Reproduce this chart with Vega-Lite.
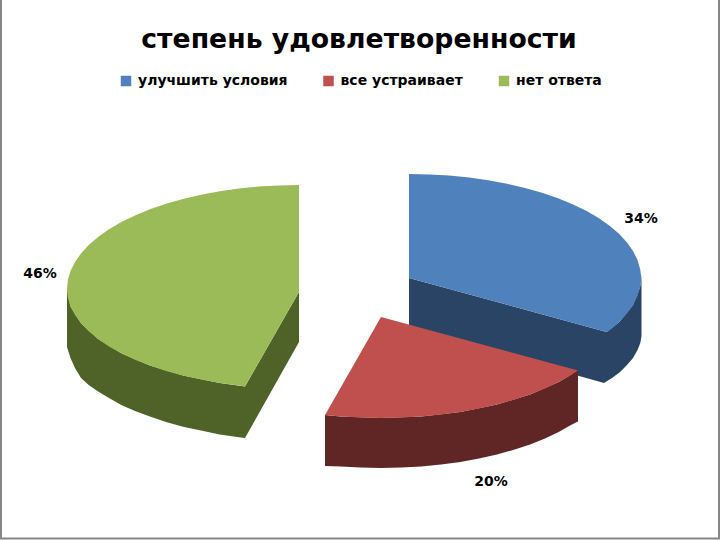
{
"$schema":"https://vega.github.io/schema/vega-lite/v6.json",
"width":720,"height":540,"padding":0,"autosize":{"type":"none"},
"background":"white",
"config":{"view":{"stroke":null}},
"title":{"text":"степень удовлетворенности","anchor":"middle","font":"DejaVu Sans","fontSize":26.7,"fontWeight":"bold","color":"#000000","baseline":"alphabetic","offset":0,"dy":79,"dx":-1},
"layer":[
{"data":{"values":[
{"x":1,"y":0,"i":0},{"x":1,"y":538.5,"i":1},{"x":719,"y":538.5,"i":2},{"x":719,"y":0,"i":3}
]},
"mark":{"type":"line","stroke":"#868686","strokeWidth":2},
"encoding":{"x":{"field":"x","type":"quantitative","scale":{"domain":[0,720],"nice":false,"zero":false},"axis":null},"y":{"field":"y","type":"quantitative","scale":{"domain":[540,0],"nice":false,"zero":false},"axis":null},"order":{"field":"i"}}},
{"data":{"values":[
{"p":"улучшить условия, бок","i":0,"x":409,"y":278},{"p":"улучшить условия, бок","i":1,"x":606.7,"y":332},{"p":"улучшить условия, бок","i":2,"x":619.3,"y":322},{"p":"улучшить условия, бок","i":3,"x":633,"y":304.9},{"p":"улучшить условия, бок","i":4,"x":640.1,"y":287},{"p":"улучшить условия, бок","i":5,"x":641.5,"y":278},{"p":"улучшить условия, бок","i":6,"x":641.5,"y":336},{"p":"улучшить условия, бок","i":7,"x":640.3,"y":343},{"p":"улучшить условия, бок","i":8,"x":637.5,"y":350},{"p":"улучшить условия, бок","i":9,"x":633,"y":358},{"p":"улучшить условия, бок","i":10,"x":627,"y":365},{"p":"улучшить условия, бок","i":11,"x":620,"y":372},{"p":"улучшить условия, бок","i":12,"x":612,"y":378},{"p":"улучшить условия, бок","i":13,"x":604,"y":383},{"p":"улучшить условия, бок","i":14,"x":409,"y":328},
{"p":"улучшить условия","i":0,"x":409,"y":174},{"p":"улучшить условия","i":1,"x":429.2,"y":174.4},{"p":"улучшить условия","i":2,"x":449.3,"y":175.6},{"p":"улучшить условия","i":3,"x":469,"y":177.5},{"p":"улучшить условия","i":4,"x":488.3,"y":180.3},{"p":"улучшить условия","i":5,"x":507,"y":183.7},{"p":"улучшить условия","i":6,"x":525,"y":187.9},{"p":"улучшить условия","i":7,"x":542,"y":192.8},{"p":"улучшить условия","i":8,"x":558.1,"y":198.3},{"p":"улучшить условия","i":9,"x":573,"y":204.5},{"p":"улучшить условия","i":10,"x":586.7,"y":211.1},{"p":"улучшить условия","i":11,"x":599,"y":218.3},{"p":"улучшить условия","i":12,"x":609.9,"y":226},{"p":"улучшить условия","i":13,"x":619.3,"y":234},{"p":"улучшить условия","i":14,"x":627,"y":242.4},{"p":"улучшить условия","i":15,"x":633,"y":251.1},{"p":"улучшить условия","i":16,"x":637.5,"y":259.9},{"p":"улучшить условия","i":17,"x":640.1,"y":268.9},{"p":"улучшить условия","i":18,"x":641.5,"y":278},{"p":"улучшить условия","i":19,"x":640.1,"y":287.1},{"p":"улучшить условия","i":20,"x":637.5,"y":296.1},{"p":"улучшить условия","i":21,"x":633,"y":304.9},{"p":"улучшить условия","i":22,"x":627,"y":313.6},{"p":"улучшить условия","i":23,"x":619.3,"y":322},{"p":"улучшить условия","i":24,"x":609.9,"y":330},{"p":"улучшить условия","i":25,"x":606.7,"y":332},{"p":"улучшить условия","i":26,"x":409,"y":278},
{"p":"нет ответа, бок","i":0,"x":67,"y":289},{"p":"нет ответа, бок","i":1,"x":70.5,"y":306.4},{"p":"нет ответа, бок","i":2,"x":81,"y":323.2},{"p":"нет ответа, бок","i":3,"x":98.1,"y":339},{"p":"нет ответа, бок","i":4,"x":121.3,"y":353.3},{"p":"нет ответа, бок","i":5,"x":149.9,"y":365.6},{"p":"нет ответа, бок","i":6,"x":183,"y":375.6},{"p":"нет ответа, бок","i":7,"x":219.7,"y":383},{"p":"нет ответа, бок","i":8,"x":245,"y":386.5},{"p":"нет ответа, бок","i":9,"x":299,"y":292},{"p":"нет ответа, бок","i":10,"x":299,"y":342},{"p":"нет ответа, бок","i":11,"x":245,"y":438},{"p":"нет ответа, бок","i":12,"x":239,"y":437.2},{"p":"нет ответа, бок","i":13,"x":219.7,"y":434.5},{"p":"нет ответа, бок","i":14,"x":201,"y":430.6},{"p":"нет ответа, бок","i":15,"x":183,"y":426.8},{"p":"нет ответа, бок","i":16,"x":166,"y":422},{"p":"нет ответа, бок","i":17,"x":149.9,"y":416.5},{"p":"нет ответа, бок","i":18,"x":135,"y":411},{"p":"нет ответа, бок","i":19,"x":121.3,"y":405},{"p":"нет ответа, бок","i":20,"x":109,"y":398},{"p":"нет ответа, бок","i":21,"x":98.1,"y":391.5},{"p":"нет ответа, бок","i":22,"x":88.7,"y":385},{"p":"нет ответа, бок","i":23,"x":81,"y":378},{"p":"нет ответа, бок","i":24,"x":75,"y":368},{"p":"нет ответа, бок","i":25,"x":70.5,"y":358},{"p":"нет ответа, бок","i":26,"x":67,"y":347},
{"p":"нет ответа","i":0,"x":299,"y":185},{"p":"нет ответа","i":1,"x":278.8,"y":185.4},{"p":"нет ответа","i":2,"x":258.7,"y":186.6},{"p":"нет ответа","i":3,"x":239,"y":188.5},{"p":"нет ответа","i":4,"x":219.7,"y":191.3},{"p":"нет ответа","i":5,"x":201,"y":194.7},{"p":"нет ответа","i":6,"x":183,"y":198.9},{"p":"нет ответа","i":7,"x":166,"y":203.8},{"p":"нет ответа","i":8,"x":149.9,"y":209.3},{"p":"нет ответа","i":9,"x":135,"y":215.5},{"p":"нет ответа","i":10,"x":121.3,"y":222.1},{"p":"нет ответа","i":11,"x":109,"y":229.3},{"p":"нет ответа","i":12,"x":98.1,"y":237},{"p":"нет ответа","i":13,"x":88.7,"y":245},{"p":"нет ответа","i":14,"x":81,"y":253.5},{"p":"нет ответа","i":15,"x":75,"y":262.1},{"p":"нет ответа","i":16,"x":70.5,"y":270.9},{"p":"нет ответа","i":17,"x":67.9,"y":279.9},{"p":"нет ответа","i":18,"x":67,"y":289},{"p":"нет ответа","i":19,"x":67.9,"y":297.7},{"p":"нет ответа","i":20,"x":70.5,"y":306.4},{"p":"нет ответа","i":21,"x":75,"y":314.9},{"p":"нет ответа","i":22,"x":81,"y":323.2},{"p":"нет ответа","i":23,"x":88.7,"y":331.3},{"p":"нет ответа","i":24,"x":98.1,"y":339},{"p":"нет ответа","i":25,"x":109,"y":346.4},{"p":"нет ответа","i":26,"x":121.3,"y":353.3},{"p":"нет ответа","i":27,"x":135,"y":359.7},{"p":"нет ответа","i":28,"x":149.9,"y":365.6},{"p":"нет ответа","i":29,"x":166,"y":370.9},{"p":"нет ответа","i":30,"x":183,"y":375.6},{"p":"нет ответа","i":31,"x":201,"y":379.6},{"p":"нет ответа","i":32,"x":219.7,"y":383},{"p":"нет ответа","i":33,"x":239,"y":385.6},{"p":"нет ответа","i":34,"x":245,"y":386.5},{"p":"нет ответа","i":35,"x":299,"y":292},
{"p":"все устраивает, бок","i":0,"x":325,"y":415},{"p":"все устраивает, бок","i":1,"x":340.7,"y":416.5},{"p":"все устраивает, бок","i":2,"x":381,"y":418},{"p":"все устраивает, бок","i":3,"x":421.3,"y":416.5},{"p":"все устраивает, бок","i":4,"x":460.3,"y":411.9},{"p":"все устраивает, бок","i":5,"x":497,"y":404.5},{"p":"все устраивает, бок","i":6,"x":530.1,"y":394.4},{"p":"все устраивает, бок","i":7,"x":558.7,"y":381.9},{"p":"все устраивает, бок","i":8,"x":578,"y":370.5},{"p":"все устраивает, бок","i":9,"x":578,"y":421.5},{"p":"все устраивает, бок","i":10,"x":571,"y":425},{"p":"все устраивает, бок","i":11,"x":558.7,"y":431.9},{"p":"все устраивает, бок","i":12,"x":545,"y":438.4},{"p":"все устраивает, бок","i":13,"x":530.1,"y":444.4},{"p":"все устраивает, бок","i":14,"x":514,"y":449.7},{"p":"все устраивает, бок","i":15,"x":497,"y":454.5},{"p":"все устраивает, бок","i":16,"x":479,"y":458.5},{"p":"все устраивает, бок","i":17,"x":460.3,"y":461.9},{"p":"все устраивает, бок","i":18,"x":441,"y":464.6},{"p":"все устраивает, бок","i":19,"x":421.3,"y":466.5},{"p":"все устраивает, бок","i":20,"x":401.2,"y":467.6},{"p":"все устраивает, бок","i":21,"x":381,"y":468},{"p":"все устраивает, бок","i":22,"x":360.8,"y":467.6},{"p":"все устраивает, бок","i":23,"x":340.7,"y":466.5},{"p":"все устраивает, бок","i":24,"x":325,"y":466},
{"p":"все устраивает","i":0,"x":381,"y":317},{"p":"все устраивает","i":1,"x":325,"y":415},{"p":"все устраивает","i":2,"x":340.7,"y":416.5},{"p":"все устраивает","i":3,"x":360.8,"y":417.6},{"p":"все устраивает","i":4,"x":381,"y":418},{"p":"все устраивает","i":5,"x":401.2,"y":417.6},{"p":"все устраивает","i":6,"x":421.3,"y":416.5},{"p":"все устраивает","i":7,"x":441,"y":414.6},{"p":"все устраивает","i":8,"x":460.3,"y":411.9},{"p":"все устраивает","i":9,"x":479,"y":408.5},{"p":"все устраивает","i":10,"x":497,"y":404.5},{"p":"все устраивает","i":11,"x":514,"y":399.7},{"p":"все устраивает","i":12,"x":530.1,"y":394.4},{"p":"все устраивает","i":13,"x":545,"y":388.4},{"p":"все устраивает","i":14,"x":558.7,"y":381.9},{"p":"все устраивает","i":15,"x":571,"y":374.9},{"p":"все устраивает","i":16,"x":578,"y":370.5}
]},
"mark":{"type":"line","filled":true,"strokeWidth":0},
"encoding":{
"x":{"field":"x","type":"quantitative","scale":{"domain":[0,720],"nice":false,"zero":false},"axis":null},
"y":{"field":"y","type":"quantitative","scale":{"domain":[540,0],"nice":false,"zero":false},"axis":null},
"order":{"field":"i"},
"color":{"field":"p","type":"nominal","scale":{"domain":["улучшить условия","все устраивает","нет ответа","улучшить условия, бок","все устраивает, бок","нет ответа, бок"],"range":["#4F81BD","#C0504D","#9BBB59","#2A4466","#5F2625","#4F6228"]},
"legend":{"values":["улучшить условия","все устраивает","нет ответа"],"title":null,"orient":"none","legendX":119,"legendY":74,"direction":"horizontal","columns":3,"columnPadding":33.5,"symbolType":"square","symbolSize":110,"symbolStrokeWidth":0,"labelFont":"DejaVu Sans","labelFontSize":14,"labelFontWeight":"bold","labelColor":"#000000","labelLimit":300,"labelOffset":5}}
}},
{"data":{"values":[
{"x":641,"y":219,"t":"34%"},{"x":491,"y":482,"t":"20%"},{"x":40,"y":274,"t":"46%"}
]},
"mark":{"type":"text","font":"DejaVu Sans","fontSize":14,"fontWeight":"bold","color":"#000000","align":"center","baseline":"middle"},
"encoding":{"x":{"field":"x","type":"quantitative","scale":{"domain":[0,720],"nice":false,"zero":false},"axis":null},"y":{"field":"y","type":"quantitative","scale":{"domain":[540,0],"nice":false,"zero":false},"axis":null},"text":{"field":"t"}}}
]
}
